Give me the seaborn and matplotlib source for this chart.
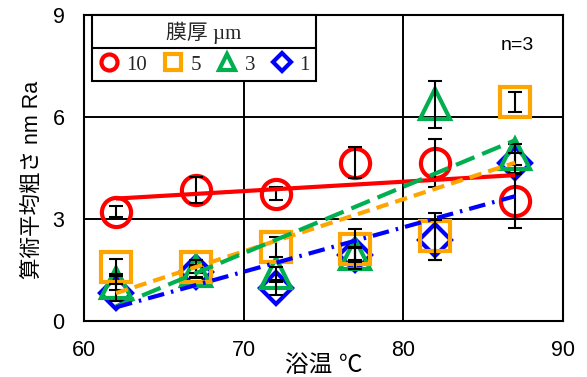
import numpy as np
import pandas as pd
import matplotlib.pyplot as plt
import seaborn as sns
from matplotlib.lines import Line2D

# bath temperature (deg C)
temps = [62, 67, 72, 77, 82, 87]

# arithmetic mean roughness Ra (nm) per film thickness, with error bars
ra_10 = [3.22, 3.86, 3.75, 4.66, 4.65, 3.53]
err_10 = [0.15, 0.38, 0.18, 0.45, 0.71, 0.79]
ra_5 = [1.60, 1.60, 2.17, 2.12, 2.49, 6.45]
err_5 = [0.22, 0.20, 0.30, 0.60, 0.70, 0.30]
ra_3 = [1.12, 1.46, 1.40, 1.98, 6.37, 4.90]
err_3 = [0.20, 0.20, 0.20, 0.20, 0.68, 0.30]
ra_1 = [0.83, 1.45, 0.96, 1.95, 2.38, 4.65]
err_1 = [0.25, 0.15, 0.20, 0.20, 0.60, 0.30]

labels = ['10', '5', '3', '1']

sns.set_theme(style='white')
plt.rcParams['font.family'] = ['Liberation Sans', 'Noto Sans CJK JP']

series = [
    ('10', ra_10, err_10, '#FF0000', 'o', 21, (0, ()), 3.4),
    ('5', ra_5, err_5, '#FFA500', 's', 21, (0, (3.0, 1.7)), 3.3),
    ('3', ra_3, err_3, '#00B050', '^', 22, (0, (4.8, 2.0)), 3.2),
    ('1', ra_1, err_1, '#0000FF', 'D', 16, (0, (4.0, 1.7, 0.6, 1.7)), 3.1),
]

fig = plt.figure(figsize=(5.87, 3.77), dpi=100)
ax = fig.add_axes([84 / 587, 1 - 321 / 377, (563 - 84) / 587, (321 - 15) / 377])

for lab, y, e, col, mk, ms, ls, z in series:
    df = pd.DataFrame({'temp': temps, 'ra': y})
    sns.lineplot(data=df, x='temp', y='ra', marker=mk, linestyle='', markersize=ms,
                 markerfacecolor='none', markeredgecolor=col, markeredgewidth=3,
                 color=col, label=lab, ax=ax, zorder=z)
    ax.errorbar(temps, y, yerr=e, fmt='none', ecolor='black', elinewidth=1.5,
                capsize=5, capthick=1.5, zorder=4)
    sns.regplot(data=df, x='temp', y='ra', scatter=False, ci=None, truncate=True,
                line_kws=dict(color=col, lw=3, linestyle=ls, zorder=5), ax=ax)

ax.set_xlim(60, 90)
ax.set_ylim(0, 9)
ax.set_xticks([60, 70, 80, 90])
ax.set_yticks([0, 3, 6, 9])
ax.grid(True, color='black', lw=1.4)
for s in ax.spines.values():
    s.set_color('black')
    s.set_linewidth(1.5)
ax.tick_params(length=0, labelsize=15.5, pad=14, colors='black')

ax.set_xlabel('浴温 ℃', fontsize=17, color='black')
ax.xaxis.set_label_coords(0.5, -0.112)
ax.set_ylabel('算術平均粗さ nm Ra', fontsize=15.5, color='black')
ax.yaxis.set_label_coords(-0.085, 0.46)

ax.text(0.905, 0.9, 'n=3', transform=ax.transAxes, ha='center', va='center',
        fontsize=14, color='black')

handles, labs = ax.get_legend_handles_labels()
serif = ['Liberation Serif', 'Noto Sans CJK JP']
leg = ax.legend(handles, labs, ncol=4, title='膜厚 µm', loc='upper left',
                bbox_to_anchor=((92 - 84) / 479, 1.0), borderaxespad=0,
                markerscale=0.55, frameon=True, fancybox=False, framealpha=1,
                edgecolor='black', handlelength=1.0, handletextpad=0.35,
                columnspacing=0.75, borderpad=0.3, labelspacing=0.55,
                prop={'family': serif, 'size': 15},
                title_fontproperties={'family': serif, 'size': 15})
leg.get_frame().set_linewidth(1.5)
leg.set_zorder(10)

# separator line between legend title and entries
fig.canvas.draw()
r = fig.canvas.get_renderer()
fb = leg.get_frame().get_window_extent(r)
tb = leg.get_title().get_window_extent(r)
inv = fig.transFigure.inverted()
ysep = tb.y0 - 4
(x0, y0), (x1, _) = inv.transform([(fb.x0, ysep), (fb.x1, ysep)])
fig.add_artist(Line2D([x0, x1], [y0, y0], color='black', lw=1.5, transform=fig.transFigure, zorder=11))

fig.savefig('out.png', dpi=100)
